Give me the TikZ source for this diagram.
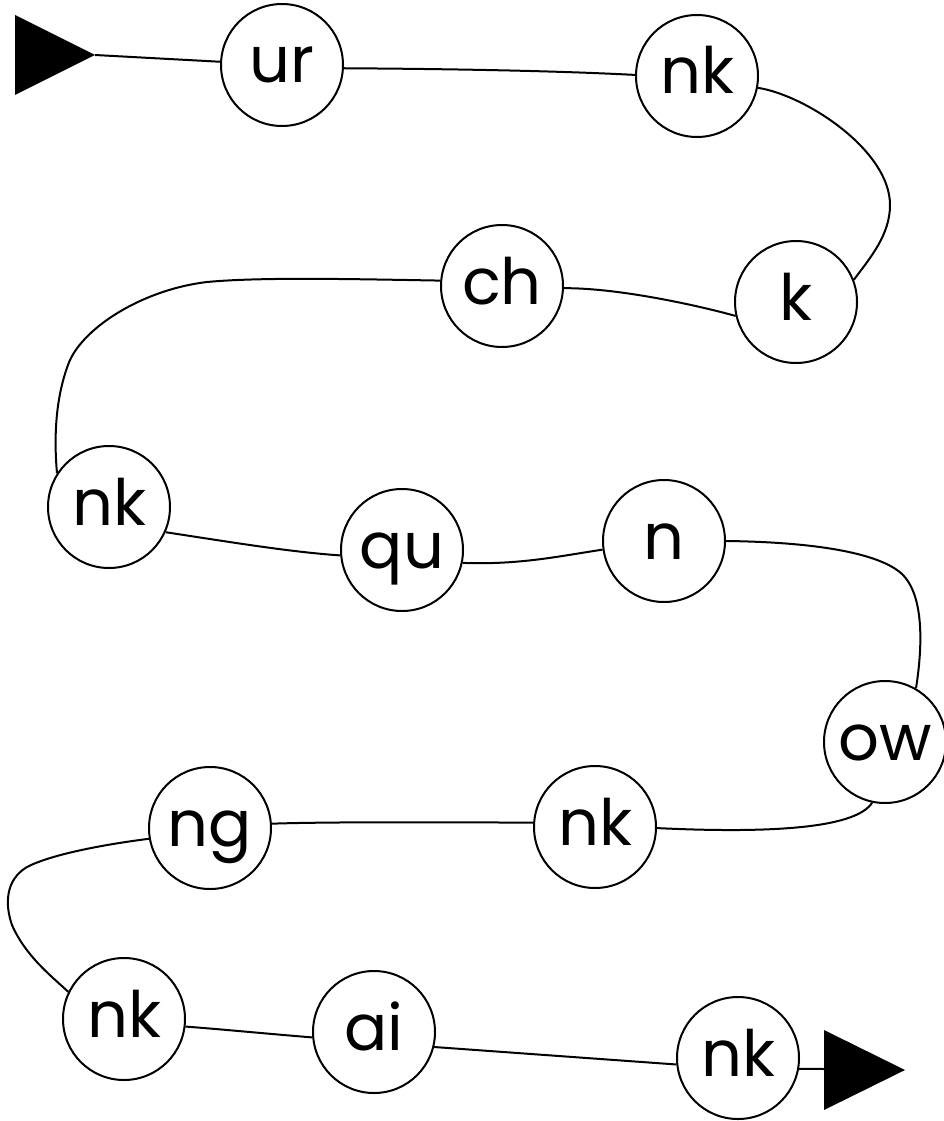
\documentclass[tikz,border=0pt]{standalone}
\usepackage{fontspec}
\setmainfont{Poppins}
\begin{document}
\begin{tikzpicture}[x=1pt,y=-1pt,
  letter/.style={circle,draw,line width=2pt,minimum size=122pt,inner sep=0pt,
    font=\fontsize{64}{70}\selectfont,text height=36pt,text depth=0pt},
  link/.style={line width=2pt},
  tri/.style={fill=black}]
\useasboundingbox (0,0) rectangle (944,1121);
\node[letter] (ur) at (282,65) {ur};
\node[letter] (nkA) at (697,76) {nk};
\node[letter] (k) at (796,302) {k};
\node[letter] (ch) at (502,286) {ch};
\node[letter] (nkB) at (109,507) {nk};
\node[letter] (qu) at (402,550) {qu};
\node[letter] (n) at (664,541) {n};
\node[letter] (ow) at (885,742) {ow};
\node[letter] (nkC) at (595,827) {nk};
\node[letter] (ng) at (210,828) {ng};
\node[letter] (nkD) at (124,1019) {nk};
\node[letter] (ai) at (374,1032) {ai};
\node[letter] (nkE) at (738,1058) {nk};
\coordinate (starttip) at (95,55);
\coordinate (endbase) at (824,1069);
\fill[tri] (15,15) -- (starttip) -- (15,95) -- cycle;
\fill[tri] (824,1030) -- (905,1070) -- (824,1110) -- cycle;
\draw[link] (starttip) -- (ur.177);
\draw[link] (ur.-3) .. controls (460,69) and (560,71) .. (nkA.179);
\draw[link] (nkA.-11) .. controls (805,95) and (890,150) .. (890,205) .. controls (890,235) and (870,258) .. (k.21);
\draw[link] (k.193) .. controls (700,306) and (620,288) .. (ch.-2);
\draw[link] (ch.175) .. controls (350,279) and (260,277) .. (207,282) .. controls (140,290) and (80,330) .. (68,365) .. controls (55,400) and (54,440) .. (nkB.147);
\draw[link] (nkB.-24) .. controls (230,542) and (290,552) .. (qu.185);
\draw[link] (qu.-12) .. controls (520,565) and (560,556) .. (n.188);
\draw[link] (n.0) .. controls (810,542) and (880,552) .. (903,575) .. controls (925,598) and (922,650) .. (ow.60);
\draw[link] (ow.258) .. controls (855,830) and (760,833) .. (nkC.-1);
\draw[link] (nkC.176) .. controls (420,822) and (320,822) .. (ng.4);
\draw[link] (ng.190) .. controls (100,845) and (50,855) .. (27,867) .. controls (5,880) and (5,905) .. (12,925) .. controls (25,955) and (50,975) .. (nkD.154);
\draw[link] (nkD.-7) .. controls (230,1030) and (270,1034) .. (ai.185);
\draw[link] (ai.-14) -- (nkE.186);
\draw[link] (nkE.-10) -- (endbase);
\end{tikzpicture}
\end{document}
